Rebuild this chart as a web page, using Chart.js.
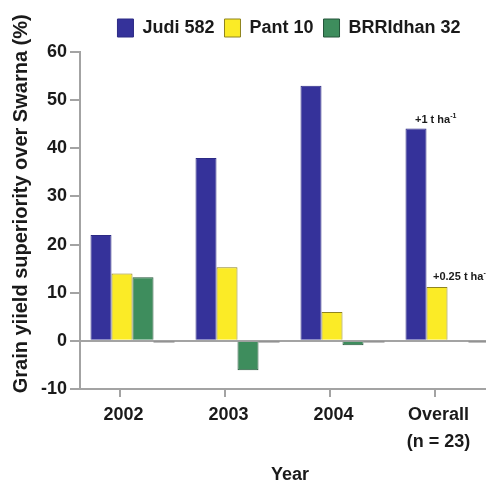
<!DOCTYPE html>
<html>
<head>
<meta charset="utf-8">
<script src="https://cdn.jsdelivr.net/npm/chart.js@4.4.0/dist/chart.umd.min.js"></script>
<style>
  html, body { margin: 0; padding: 0; background: #fff; overflow: hidden; }
  #wrap { width: 486px; height: 483px; overflow: hidden; }
</style>
</head>
<body>
<div id="wrap"><canvas id="chart" width="500" height="483"></canvas></div>
<script>
var years = ['2002', '2003', '2004', ['Overall', '(n = 23)']];
var judi582 = [22, 38, 53, 44.1];
var pant10 = [14, 15.3, 6, 11.2];
var brridhan32 = [13.2, -6.1, -0.9, 0];
var baseline = [-0.3, -0.3, -0.3, -0.3];
var yTicks = [-10, 0, 10, 20, 30, 40, 50, 60];
var notes = [
  {dataset: 0, index: 3, text: '+1 t ha', sup: '-1', dx: -1, dy: -6},
  {dataset: 1, index: 3, text: '+0.25 t ha', sup: '-1', dx: -4, dy: -7}
];

var FONT = 'Arial, "Liberation Sans", sans-serif';
var AXIS = '#a3a3a3';

Chart.defaults.font.family = FONT;
Chart.defaults.font.weight = 'bold';
Chart.defaults.font.size = 18;
Chart.defaults.color = '#1a1a1a';

var extras = {
  id: 'extras',
  afterLayout: function (chart) {
    // legend sits right of centre and a little higher in the original
    chart.legend.left += 39;
    chart.legend.right += 39;
    chart.legend.top -= 5;
    chart.legend.bottom -= 5;
  },
  afterDatasetsDraw: function (chart) {
    var ctx = chart.ctx;
    ctx.save();
    ctx.fillStyle = '#1a1a1a';
    ctx.textBaseline = 'alphabetic';
    ctx.textAlign = 'left';
    notes.forEach(function (n) {
      var bar = chart.getDatasetMeta(n.dataset).data[n.index];
      var x = bar.x + n.dx, y = bar.y + n.dy;
      ctx.font = 'bold 11px ' + FONT;
      ctx.fillText(n.text, x, y);
      var w = ctx.measureText(n.text).width;
      ctx.font = 'bold 7px ' + FONT;
      ctx.fillText(n.sup, x + w, y - 5);
    });
    ctx.restore();
  },
  afterDraw: function (chart) {
    // x tick marks sit left of the bar groups
    var xs = chart.scales.x, ctx = chart.ctx;
    ctx.save();
    ctx.strokeStyle = AXIS;
    ctx.lineWidth = 2;
    xs.ticks.forEach(function (t, i) {
      var x = Math.round(xs.getPixelForTick(i) - 13);
      ctx.beginPath();
      ctx.moveTo(x, xs.top);
      ctx.lineTo(x, xs.top + 8);
      ctx.stroke();
    });
    ctx.restore();
  }
};

var chart = new Chart(document.getElementById('chart'), {
  type: 'bar',
  data: {
    labels: years,
    datasets: [
      {label: 'Judi 582', data: judi582, backgroundColor: '#35329a', borderColor: '#2c2a85', borderWidth: 1},
      {label: 'Pant 10', data: pant10, backgroundColor: '#fbeb26', borderColor: '#8f8420', borderWidth: 1},
      {label: 'BRRIdhan 32', data: brridhan32, backgroundColor: '#3e8d5d', borderColor: '#24553a', borderWidth: 1},
      {label: '', data: baseline, backgroundColor: '#2b2b2b', borderWidth: 0}
    ]
  },
  options: {
    responsive: false,
    animation: false,
    layout: {padding: {top: 14, right: 0, bottom: 0, left: 0}},
    datasets: {bar: {barPercentage: 1, categoryPercentage: 0.8}},
    plugins: {
      tooltip: {enabled: false},
      legend: {
        position: 'top',
        labels: {
          boxWidth: 16,
          boxHeight: 18,
          padding: 10,
          color: '#1a1a1a',
          font: {size: 18, weight: 'bold'},
          filter: function (item) { return item.datasetIndex < 3; }
        }
      }
    },
    scales: {
      x: {
        afterFit: function (s) { s.height = 94; },
        grid: {display: false, drawTicks: false},
        border: {display: true, color: AXIS, width: 2},
        ticks: {padding: 13, labelOffset: -9, font: {size: 18, weight: 'bold', lineHeight: 1.5}},
        title: {display: true, text: 'Year', font: {size: 18, weight: 'bold', lineHeight: 1}, padding: {top: 0, bottom: -1}}
      },
      y: {
        min: -10,
        max: 60,
        afterFit: function (s) { s.width = 80; },
        afterBuildTicks: function (s) { s.ticks = yTicks.map(function (v) { return {value: v}; }); },
        grid: {
          color: function (c) { return c.tick && c.tick.value === 0 ? AXIS : 'rgba(0,0,0,0)'; },
          tickColor: AXIS,
          tickLength: 10,
          lineWidth: 2
        },
        border: {display: true, color: AXIS, width: 2},
        ticks: {padding: 3, font: {size: 18, weight: 'bold'}},
        title: {
          display: true,
          // leading spaces nudge the centred title upwards, as in the original
          text: '      Grain yiield superiority over Swarna (%)',
          font: {size: 20, weight: 'bold', lineHeight: 1},
          padding: {top: 11, bottom: 0}
        }
      }
    }
  },
  plugins: [extras]
});
</script>
</body>
</html>
